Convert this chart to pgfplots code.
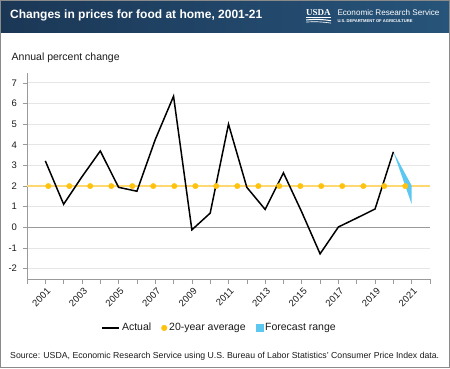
\documentclass[border=0pt]{standalone}
\usepackage{pgfplots}
\pgfplotsset{compat=1.18}
\usepackage{fontspec}
\setmainfont{Liberation Sans}
\newfontfamily\serifb{Liberation Serif}
\definecolor{navyL}{HTML}{1B3756}
\definecolor{navyR}{HTML}{27547A}
\definecolor{avgline}{HTML}{FFD970}
\definecolor{avgdot}{HTML}{FFC20E}
\definecolor{fcblue}{HTML}{5CC8F0}
\definecolor{gridgray}{HTML}{E6E6E6}
\definecolor{axisgray}{HTML}{9A9A9A}
\definecolor{framegray}{HTML}{8A8A8A}
\definecolor{txt}{HTML}{1A1A1A}
\pgfplotstableread{
year val
2001 3.22
2002 1.12
2003 2.45
2004 3.70
2005 1.94
2006 1.75
2007 4.25
2008 6.35
2009 -0.12
2010 0.69
2011 5.00
2012 1.94
2013 0.87
2014 2.64
2015 0.74
2016 -1.28
2017 0.02
2018 0.45
2019 0.89
2020 3.66
}\actual
\pgfplotstableread{
year val
2001.16 2
2002.31 2
2003.45 2
2004.60 2
2005.75 2
2006.89 2
2008.04 2
2009.19 2
2010.33 2
2011.48 2
2012.63 2
2013.77 2
2014.92 2
2016.06 2
2017.21 2
2018.36 2
2019.50 2
2020.65 2
}\avgdots
\begin{document}
\begin{tikzpicture}[x=1pt,y=1pt]
% header
\shade[left color=navyL, right color=navyR] (0,335.5) rectangle (450,368);
\node[anchor=base west, text=white, font=\fontsize{12}{14}\selectfont\bfseries, inner sep=0] at (10,349) {Changes in prices for food at home, 2001-21};
\node[anchor=base west, text=white, font=\fontsize{9}{10}\selectfont\serifb\bfseries, inner sep=0] at (306,352.5) {USDA};
\fill[white] (306,350.2) rectangle (331,350.9);
\fill[white] (306,348.5) .. controls (315,349.5) and (322,349.2) .. (331,347.8) -- (331,346.8) .. controls (322,348.2) and (315,348.5) .. (306,347.5) -- cycle;
\fill[white] (306,346.2) .. controls (315,347) and (322,346.5) .. (331,345.2) -- (331,344.6) .. controls (322,345.9) and (315,346.2) .. (306,345.6) -- cycle;
\node[anchor=base west, text=white, inner sep=0] at (337.3,352.7) {\resizebox{102pt}{!}{Economic Research Service}};
\node[anchor=base west, text=white, inner sep=0] at (337.3,345.8) {\resizebox{75pt}{!}{\bfseries U.S. DEPARTMENT OF AGRICULTURE}};
% y label
\node[anchor=west, text=txt, font=\fontsize{10.5}{12}\selectfont, inner sep=0] at (11.5,310) {Annual percent change};
% source
\node[anchor=base west, text=txt, inner sep=0] at (10,9.5) {\resizebox{429pt}{!}{Source: USDA, Economic Research Service using U.S. Bureau of Labor Statistics' Consumer Price Index data.}};
\begin{axis}[
  at={(27pt,89pt)}, anchor=south west,
  width=403pt, height=206.5pt, scale only axis,
  xmin=2000, xmax=2022, ymin=-2.5, ymax=7.5,
  axis x line*=bottom, axis y line*=left,
  axis line style={-, draw=axisgray, line width=0.8pt},
  ytick={-2,...,7},
  xtick={2001,2003,...,2021},
  minor xtick={2000,2002,...,2022},
  xticklabels={2001,2003,2005,2007,2009,2011,2013,2015,2017,2019,2021},
  tick align=outside, major tick length=4.5pt, minor tick length=4.5pt,
  tick style={draw=axisgray, line width=0.6pt},
  ymajorgrids, grid style={draw=gridgray, line width=0.9pt},
  /pgf/number format/assume math mode=true,
  yticklabel style={font=\fontsize{9.5}{11}\selectfont, text=txt, xshift=-2pt},
  xticklabel style={font=\fontsize{9.5}{11}\selectfont, text=txt, rotate=45, anchor=east, xshift=1.5pt, yshift=-7pt},
  legend style={at={(0.478,-0.237)}, anchor=center, draw=none, fill=none,
    legend columns=3, font=\fontsize{10.5}{12}\selectfont, text=txt,
    /tikz/every even column/.append style={column sep=8pt},
    legend cell align=left},
  clip=false,
]
\addlegendimage{legend image code/.code={\draw[black, line width=1.5pt] (0pt,0pt) -- (17pt,0pt);}}
\addlegendentry{Actual}
\addlegendimage{legend image code/.code={\fill[avgdot] (3pt,0pt) circle (2.8pt);}}
\addlegendentry{20-year average}
\addlegendimage{legend image code/.code={\fill[fcblue] (0pt,-3.5pt) rectangle (7pt,3.5pt);}}
\addlegendentry{Forecast range}
\addplot[draw=axisgray, line width=0.8pt, forget plot] coordinates {(2000,0) (2022,0)};
\addplot[draw=avgline, line width=1.6pt, forget plot] coordinates {(2000,2) (2022,2)};
\addplot[fill=fcblue, draw=none, forget plot] coordinates {(2020,3.66) (2021,2.02) (2021,1.12)} -- cycle;
\addplot[black, line width=1.5pt, forget plot] table[x=year, y=val] {\actual};
\addplot[only marks, mark=*, mark size=2.7pt, color=avgdot, forget plot] table[x=year, y=val] {\avgdots};
\end{axis}
\draw[framegray, line width=1.2pt] (0.6,0.6) rectangle (449.4,367.4);
\pgfresetboundingbox
\useasboundingbox (0,0) rectangle (450,368);
\end{tikzpicture}
\end{document}
